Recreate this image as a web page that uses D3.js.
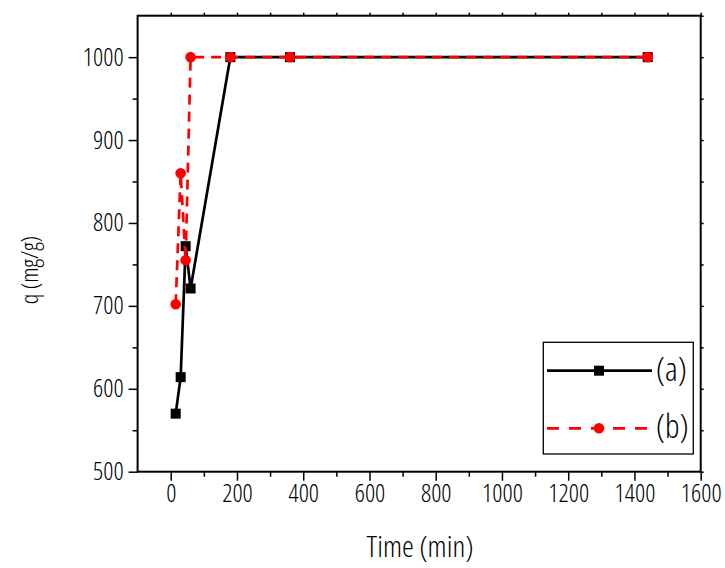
<!DOCTYPE html>
<html>
<head>
<meta charset="utf-8">
<script src="https://cdn.jsdelivr.net/npm/d3@7"></script>
<style>
	html, body { margin: 0; padding: 0; background: #fff; }
	text { font-family: "Open Sans", "DejaVu Sans Condensed", sans-serif; font-stretch: 75%; font-weight: 300; fill: #000; }
</style>
</head>
<body>
<div id="chart"></div>
<script>
// time (min)
const times = [15, 30, 45, 60, 180, 360, 1440];
// q (mg/g)
const seriesA = [570, 614, 772, 721, 1000, 1000, 1000];
const seriesB = [702, 860, 755, 1000, 1000, 1000, 1000];
const seriesNames = ["(a)", "(b)"];
const xTicks = [0, 200, 400, 600, 800, 1000, 1200, 1400, 1600];
const yTicks = [500, 600, 700, 800, 900, 1000];

const w = 725;
const h = 568;
const plotLeft = 137.6, plotRight = 700.7, plotTop = 15.7, plotBottom = 471.7;

const xScale = d3.scaleLinear().domain([-100, 1600]).range([plotLeft, plotRight]);
const yScale = d3.scaleLinear().domain([500, 1050]).range([plotBottom, plotTop]);

const svg = d3.select("#chart").append("svg").attr("width", w).attr("height", h);

// axes
const xAxis = d3.axisBottom(xScale).tickValues(xTicks).tickSize(9).tickPadding(4).tickFormat(d3.format("d"));
const xMinor = d3.axisBottom(xScale).tickValues(d3.range(100, 1600, 200)).tickSize(5).tickFormat("");
const yAxis = d3.axisLeft(yScale).tickValues(yTicks).tickSize(9).tickPadding(5).tickFormat(d3.format("d"));
const yMinor = d3.axisLeft(yScale).tickValues(d3.range(550, 1050, 100)).tickSize(5).tickFormat("");
const topAxis = d3.axisTop(xScale).tickValues(d3.range(0, 1601, 100)).tickSize(3).tickFormat("");
const rightAxis = d3.axisRight(yScale).tickValues(d3.range(500, 1051, 50)).tickSize(3).tickFormat("");

const styleAxis = (g) => {
	g.select(".domain").remove();
	g.selectAll(".tick line").attr("stroke", "#000").attr("stroke-width", 1.5);
	g.selectAll(".tick text").style("font-size", "25px").attr("fill", "#000");
};

svg.append("g").attr("transform", `translate(0,${plotBottom})`).call(xAxis).call(styleAxis);
svg.append("g").attr("transform", `translate(0,${plotBottom})`).call(xMinor).call(styleAxis);
svg.append("g").attr("transform", `translate(${plotLeft},0)`).call(yAxis).call(styleAxis);
svg.append("g").attr("transform", `translate(${plotLeft},0)`).call(yMinor).call(styleAxis);
svg.append("g").attr("transform", `translate(0,${plotTop})`).call(topAxis).call(styleAxis);
svg.append("g").attr("transform", `translate(${plotRight},0)`).call(rightAxis).call(styleAxis);

svg.append("rect")
	.attr("x", plotLeft).attr("y", plotTop)
	.attr("width", plotRight - plotLeft).attr("height", plotBottom - plotTop)
	.attr("fill", "none").attr("stroke", "#000").attr("stroke-width", 2);

// titles
svg.append("text")
	.attr("x", 420).attr("y", 557)
	.attr("text-anchor", "middle")
	.style("font-size", "30px")
	.text("Time (min)");

svg.append("text")
	.attr("transform", `translate(38,270) rotate(-90)`)
	.attr("text-anchor", "middle")
	.style("font-size", "24px")
	.text("q (mg/g)");

// series
const line = d3.line().x((d) => xScale(d[0])).y((d) => yScale(d[1]));
const dataA = times.map((t, i) => [t, seriesA[i]]);
const dataB = times.map((t, i) => [t, seriesB[i]]);

svg.append("path").datum(dataA)
	.attr("d", line).attr("fill", "none")
	.attr("stroke", "#000").attr("stroke-width", 2.7);

svg.selectAll(".sq").data(dataA).enter().append("rect")
	.attr("class", "sq")
	.attr("x", (d) => xScale(d[0]) - 5).attr("y", (d) => yScale(d[1]) - 5)
	.attr("width", 10).attr("height", 10).attr("fill", "#000");

svg.append("path").datum(dataB)
	.attr("d", line).attr("fill", "none")
	.attr("stroke", "#ff0000").attr("stroke-width", 2.7)
	.attr("stroke-dasharray", "10,7");

svg.selectAll(".dot").data(dataB).enter().append("circle")
	.attr("class", "dot")
	.attr("cx", (d) => xScale(d[0])).attr("cy", (d) => yScale(d[1]))
	.attr("r", 5.3).attr("fill", "#ff0000");

// legend
const legend = svg.append("g");
legend.append("rect")
	.attr("x", 543.3).attr("y", 342.3).attr("width", 150).attr("height", 111.7)
	.attr("fill", "#fff").attr("stroke", "#000").attr("stroke-width", 1.3);

const items = legend.selectAll(".item").data(seriesNames).enter().append("g")
	.attr("class", "item")
	.attr("transform", (d, i) => `translate(0,${370.7 + i * 57.6})`);

items.append("line")
	.attr("x1", 547).attr("x2", 652).attr("y1", 0).attr("y2", 0)
	.attr("stroke", (d, i) => (i === 0 ? "#000" : "#ff0000"))
	.attr("stroke-width", 2.7)
	.attr("stroke-dasharray", (d, i) => (i === 0 ? null : "12,10"));

items.filter((d, i) => i === 0).append("rect")
	.attr("x", 594).attr("y", -5).attr("width", 10).attr("height", 10).attr("fill", "#000");
items.filter((d, i) => i === 1).append("circle")
	.attr("cx", 599).attr("cy", 0).attr("r", 5.3).attr("fill", "#ff0000");

items.append("text")
	.attr("x", 656).attr("y", 10)
	.style("font-size", "33px")
	.text((d) => d);
</script>
</body>
</html>
